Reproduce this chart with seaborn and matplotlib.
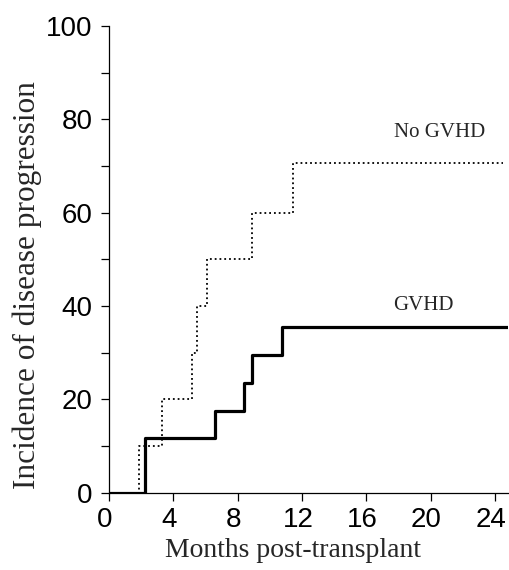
import matplotlib
matplotlib.use("Agg")
import matplotlib.pyplot as plt
import matplotlib.transforms as mtransforms
import seaborn as sns
import pandas as pd

# curvas de incidencia acumulada (meses, %)
no_gvhd_t = [0, 1.9, 3.3, 5.15, 5.5, 6.1, 8.9, 11.45, 24.5]
no_gvhd_y = [0, 10, 20, 30, 40, 50, 60, 70.6, 70.6]
gvhd_t = [0, 2.25, 6.6, 8.4, 8.9, 10.75, 24.9]
gvhd_y = [0, 11.8, 17.6, 23.5, 29.4, 35.5, 35.5]

x_ticks = [0, 4, 8, 12, 16, 20, 24]
y_ticks = [0, 10, 20, 30, 40, 50, 60, 70, 80, 90, 100]
y_labels = ["0", "", "20", "", "40", "", "60", "", "80", "", "100"]

sns.set_style("ticks")
plt.rcParams["font.family"] = ["Liberation Sans", "DejaVu Sans"]

no_df = pd.DataFrame({"t": no_gvhd_t, "inc": no_gvhd_y})
gv_df = pd.DataFrame({"t": gvhd_t, "inc": gvhd_y})

fig = plt.figure(figsize=(5.09, 5.70), dpi=100)
ax = fig.add_axes([0.214, 0.1356, 0.785, 0.8188])

sns.lineplot(data=no_df, x="t", y="inc", ax=ax, color="black", linestyle=":",
             linewidth=1.3, drawstyle="steps-post")
sns.lineplot(data=gv_df, x="t", y="inc", ax=ax, color="black", linestyle="-",
             linewidth=2.3, drawstyle="steps-post")

ax.set_xlim(0, 24.85)
ax.set_ylim(0, 100)
ax.set_xticks(x_ticks)
ax.set_xticklabels([str(v) for v in x_ticks])
ax.set_yticks(y_ticks)
ax.set_yticklabels(y_labels)
ax.tick_params(axis="both", labelsize=20, length=6, width=0.9, color="black",
               labelcolor="black", direction="out")
ax.tick_params(axis="x", pad=4)
ax.tick_params(axis="y", pad=6)

# etiquetas del eje x un poco a la izquierda, como en el original
shift = mtransforms.ScaledTranslation(-4 / 100, 0, fig.dpi_scale_trans)
for lab in ax.get_xticklabels():
    lab.set_transform(lab.get_transform() + shift)

for s in ["top", "right"]:
    ax.spines[s].set_visible(False)
for s in ["left", "bottom"]:
    ax.spines[s].set_linewidth(0.9)
    ax.spines[s].set_color("black")

serif = ["Liberation Serif", "DejaVu Serif"]
ax.set_xlabel("Months post-transplant", fontsize=20, family=serif, va="center")
ax.xaxis.set_label_coords(0.46, -0.124)
ax.set_ylabel("Incidence of disease progression", fontsize=22.5, family=serif, va="center")
ax.yaxis.set_label_coords(-0.205, 0.445)

ax.text(17.7, 77.1, "No GVHD", fontsize=15, family=serif, ha="left", va="center")
ax.text(17.7, 40.2, "GVHD", fontsize=15, family=serif, ha="left", va="center")

fig.savefig("out.png", dpi=100)
